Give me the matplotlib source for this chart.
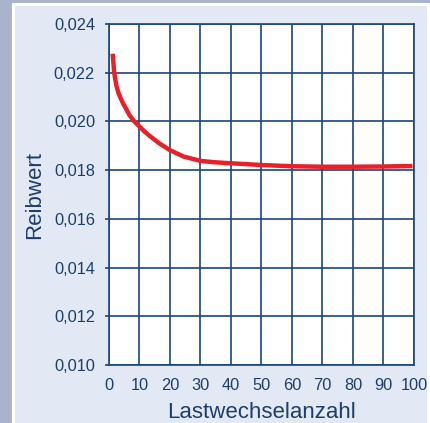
import matplotlib.pyplot as plt
from matplotlib.patches import Rectangle

# curve
lastwechsel = [1.2, 1.7, 2.4, 3.1, 3.9, 4.7, 5.6, 6.7, 8.3, 10, 11.7, 13.3,
               16.5, 20, 24.4, 30, 34, 38.9, 50, 60, 70, 80, 90, 99.5]
reibwert = [0.02278, 0.02200, 0.02148, 0.02117, 0.02093, 0.02072, 0.02052,
            0.02026, 0.02000, 0.01979, 0.01958, 0.01941, 0.01910, 0.01882,
            0.01856, 0.01838, 0.01833, 0.01829, 0.01821, 0.01816, 0.01814,
            0.01814, 0.01815, 0.01817]

xticks = [0, 10, 20, 30, 40, 50, 60, 70, 80, 90, 100]
yticks = [0.010, 0.012, 0.014, 0.016, 0.018, 0.020, 0.022, 0.024]
ylabels = ['0,010', '0,012', '0,014', '0,016', '0,018', '0,020', '0,022', '0,024']

navy = '#1a4677'
txt = '#1d3e6b'
plt.rcParams['font.family'] = ['Liberation Sans', 'DejaVu Sans']

fig = plt.figure(figsize=(4.31, 4.23), dpi=100)
fig.patch.set_facecolor('#a9b3cb')
# white-edged light panel
panel = Rectangle((13/431, -0.05), (428-13)/431, 1.05 - 4/423,
                  transform=fig.transFigure, facecolor='#e2e9f4',
                  edgecolor='white', linewidth=2.2, zorder=-5)
fig.add_artist(panel)

ax = fig.add_axes([109/431, 1 - 365/423, 305/431, 341/423])
ax.set_facecolor('white')
ax.plot(lastwechsel, reibwert, color='#e8202a', linewidth=3.2,
        solid_capstyle='butt', solid_joinstyle='round', zorder=3)

ax.set_xlim(0, 100)
ax.set_ylim(0.010, 0.024)
ax.set_xticks(xticks)
ax.set_xticklabels([str(t) for t in xticks])
ax.set_yticks(yticks)
ax.set_yticklabels(ylabels)
ax.grid(True, color=navy, linewidth=1.2)
ax.set_axisbelow(True)
for s in ax.spines.values():
    s.set_color(navy)
    s.set_linewidth(1.2)
ax.tick_params(axis='x', length=0, pad=9, labelsize=11.8, labelcolor=txt)
ax.tick_params(axis='y', length=3, width=1.2, color=navy, pad=7,
               labelsize=11.8, labelcolor=txt)
ax.set_xlabel('Lastwechselanzahl', fontsize=16, color=txt, labelpad=7)
ax.set_ylabel('Reibwert', fontsize=16, color=txt, labelpad=6)

fig.savefig('out.png', dpi=100, facecolor=fig.get_facecolor())
